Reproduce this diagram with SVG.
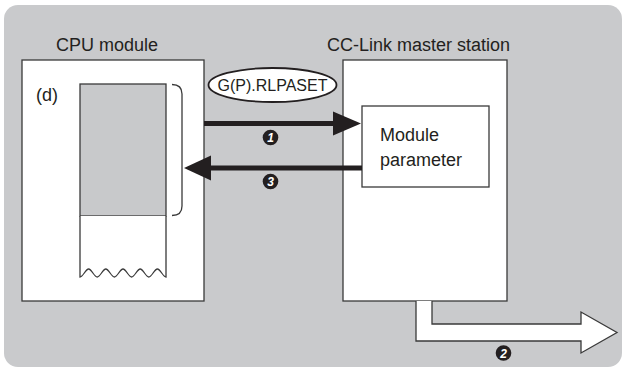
<svg xmlns="http://www.w3.org/2000/svg" width="622" height="367" viewBox="0 0 622 367">
<style>
text{font-family:"Liberation Sans",Arial,sans-serif;fill:#231f20}
.t{font-size:18px}
.box{fill:#fff;stroke:#3a3a3a;stroke-width:1.3}
.ln{stroke:#231f20;stroke-width:5;fill:none}
.hd{fill:#231f20}
.num circle{fill:#231f20}
.num text{fill:#fff;font-size:12px;font-weight:bold;font-style:italic;text-anchor:middle}
</style>
<rect x="4" y="5" width="618" height="362" rx="14" fill="#c9cacc"/>
<g id="cpu">
<rect class="box" x="22" y="60" width="182" height="241"/>
<text class="t" x="56" y="51">CPU module</text>
<text class="t" x="36" y="101">(d)</text>
<rect x="80" y="84" width="86" height="132" fill="#c8c9cb" stroke="#3a3a3a" stroke-width="1.3"/>
<path d="M80,216 L80,277 C83,277 85.6,269 88.6,269 S94.2,277 97.2,277 S102.8,269 105.8,269 S111.4,277 114.4,277 S120,269 123,269 S128.6,277 131.6,277 S137.2,269 140.2,269 S145.8,277 148.8,277 S154.4,269 157.4,269 S163,277 166,277 L166,216" fill="#fff" stroke="#3a3a3a" stroke-width="1.3"/>
<path d="M172,84.5 Q182,84.5 182,94 L182,206 Q182,215.5 172,215.5" fill="none" stroke="#3a3a3a" stroke-width="1.3"/>
</g>
<g id="instr">
<ellipse cx="272.5" cy="85" rx="64" ry="17" fill="#fff" stroke="#231f20" stroke-width="1.8"/>
<text x="272.5" y="91" font-size="16" text-anchor="middle">G(P).RLPASET</text>
</g>
<g id="master">
<rect class="box" x="343" y="60" width="164" height="241"/>
<text class="t" x="327" y="51">CC-Link master station</text>
</g>
<g id="param">
<rect class="box" x="362" y="106" width="127" height="81"/>
<text class="t" x="380" y="141">Module</text>
<text class="t" x="380" y="166">parameter</text>
</g>
<g id="connectors">
<line class="ln" x1="204" y1="123.5" x2="336" y2="123.5"/>
<path class="hd" d="M333,111.5 L361,123.5 L333,135.5 Z"/>
<line class="ln" x1="362" y1="168" x2="208" y2="168"/>
<path class="hd" d="M211,155.5 L184,168 L211,180.5 Z"/>
<path d="M416,301 L416,341 L581,341 L581,353 L617,332.5 L581,312 L581,324 L432,324 L432,301" fill="#fff" stroke="#3a3a3a" stroke-width="1.3" stroke-linejoin="miter"/>
</g>
<g id="labels">
<g class="num"><circle cx="270.5" cy="137.5" r="7.8"/><text x="270.5" y="142">1</text></g>
<g class="num"><circle cx="270.5" cy="181.5" r="7.8"/><text x="270.5" y="186">3</text></g>
<g class="num"><circle cx="503.5" cy="353" r="7.8"/><text x="503.5" y="357.5">2</text></g>
</g>
</svg>
